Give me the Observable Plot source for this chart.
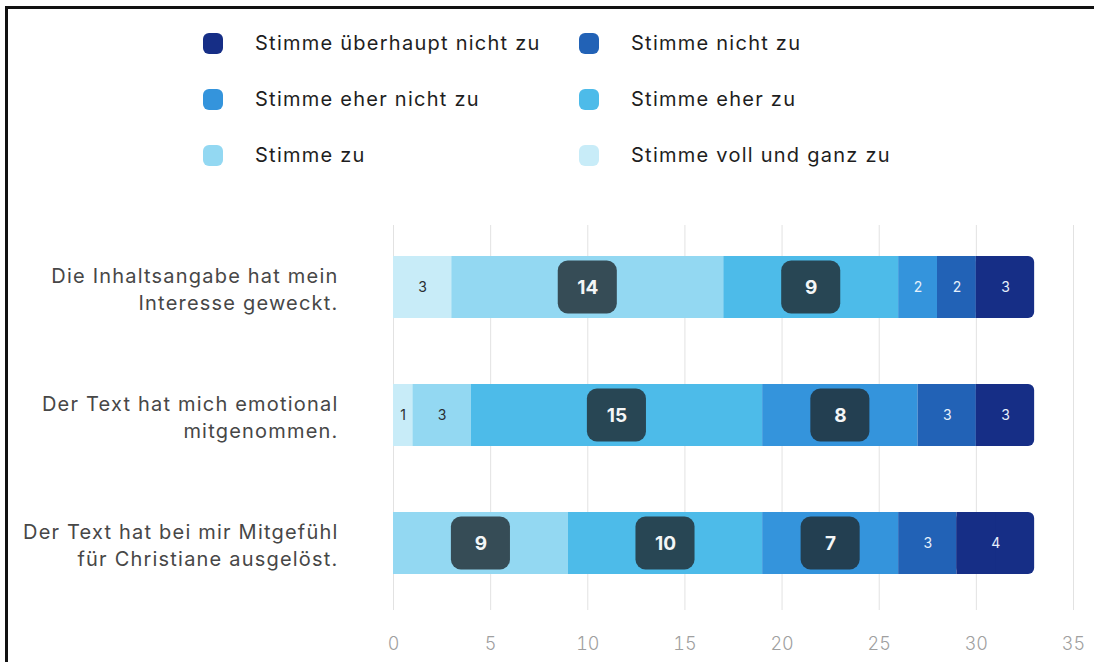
<!DOCTYPE html>
<html>
<head>
<meta charset="utf-8">
<script src="https://cdn.jsdelivr.net/npm/d3@7"></script>
<script src="https://cdn.jsdelivr.net/npm/@observablehq/plot@0.6"></script>
<style>
  html, body { margin: 0; padding: 0; background: #fff; }
  body { width: 1094px; height: 662px; position: relative; overflow: hidden; font-family: Inter, "Noto Sans", sans-serif; }
  #frame { position: absolute; left: 5px; top: 6px; right: -10px; bottom: -10px; border-top: 3px solid #111; border-left: 3px solid #111; pointer-events: none; z-index: 2; }
  #legend { position: absolute; left: 0; top: 0; width: 1094px; height: 200px; box-sizing: border-box; padding: 33px 0 0 203px;
    display: grid; grid-template-columns: 376px auto; grid-auto-rows: 20px; row-gap: 36px; align-content: start; }
  .item { display: flex; align-items: center; height: 20px; }
  .sw { width: 20px; height: 21px; border-radius: 6px; margin-right: 32px; flex: none; }
  .lab { font-size: 20px; line-height: 20px; color: #1e1e1e; white-space: nowrap; letter-spacing: 1.25px; }
  #chart { position: absolute; left: 0; top: 200px; }
  g[aria-description="ylabels"] text { letter-spacing: 1.2px; }
</style>
</head>
<body>
<div id="frame"></div>
<div id="legend"></div>
<div id="chart"></div>
<script>
const statements = [
  "Die Inhaltsangabe hat mein\nInteresse geweckt.",
  "Der Text hat mich emotional\nmitgenommen.",
  "Der Text hat bei mir Mitgefühl\nfür Christiane ausgelöst."
];
const responses = [
  "Stimme voll und ganz zu",
  "Stimme zu",
  "Stimme eher zu",
  "Stimme eher nicht zu",
  "Stimme nicht zu",
  "Stimme überhaupt nicht zu"
];
const colors = ["#c8ecf8", "#93d8f2", "#4dbbe9", "#3494dc", "#2262b6", "#162e86"];
const countsInteresse = [3, 14, 9, 2, 2, 3];
const countsEmotional = [1, 3, 15, 8, 3, 3];
const countsMitgefuehl = [0, 9, 10, 7, 3, 4];
const xTicks = [0, 5, 10, 15, 20, 25, 30, 35];
const legendOrder = [
  "Stimme überhaupt nicht zu", "Stimme nicht zu",
  "Stimme eher nicht zu", "Stimme eher zu",
  "Stimme zu", "Stimme voll und ganz zu"
];

// build table (manual stacking)
const allCounts = [countsInteresse, countsEmotional, countsMitgefuehl];
const rows = [];
statements.forEach((s, i) => {
  let acc = 0;
  responses.forEach((r, j) => {
    const v = allCounts[i][j];
    rows.push({statement: s, response: r, idx: j, value: v, x1: acc, x2: acc + v, mid: acc + v / 2});
    acc += v;
  });
});
const segs = rows.filter(d => d.value > 0);
const lastSegs = segs.filter(d => d.idx === responses.length - 1);
const otherSegs = segs.filter(d => d.idx !== responses.length - 1);
const big = segs.filter(d => d.value >= 5);
const small = segs.filter(d => d.value < 5);
const badgeHalf = 1.52;

// legend
const legend = document.getElementById("legend");
legendOrder.forEach(r => {
  const it = document.createElement("div");
  it.className = "item";
  const sw = document.createElement("span");
  sw.className = "sw";
  sw.style.background = colors[responses.indexOf(r)];
  const lb = document.createElement("span");
  lb.className = "lab";
  lb.textContent = r;
  it.append(sw, lb);
  legend.append(it);
});

const chart = Plot.plot({
  width: 1094,
  height: 462,
  marginLeft: 393,
  marginRight: 21,
  marginTop: 25,
  marginBottom: 52,
  style: {fontFamily: "Inter, 'Noto Sans', sans-serif", background: "transparent"},
  x: {domain: [0, 35], axis: null},
  y: {domain: statements, range: [56, 374], paddingInner: 0.516, paddingOuter: 0, axis: null},
  color: {domain: responses, range: colors},
  marks: [
    Plot.gridX(xTicks, {stroke: "#e2e2e2", strokeOpacity: 1, strokeWidth: 1}),
    Plot.barX(otherSegs, {x1: "x1", x2: "x2", y: "statement", fill: "response"}),
    Plot.barX(lastSegs, {x1: "x1", x2: "x2", y: "statement", fill: "response", rx: 6}),
    Plot.barX(lastSegs, {x1: "x1", x2: "mid", y: "statement", fill: "response"}),
    Plot.barX(big, {x1: d => d.mid - badgeHalf, x2: d => d.mid + badgeHalf, y: "statement",
      insetTop: 4.5, insetBottom: 4.5, rx: 10, fill: "#1f292e", fillOpacity: 0.8}),
    Plot.text(big, {x: "mid", y: "statement", text: d => String(d.value), fill: "#f4f6f7",
      fontSize: 19, fontWeight: 700}),
    Plot.text(small, {x: "mid", y: "statement", text: d => String(d.value),
      fill: d => d.idx <= 1 ? "#2a2f33" : "#e6f0fb", fontSize: 14, fontWeight: d => d.idx <= 1 ? 600 : 500}),
    Plot.text(statements, {y: d => d, frameAnchor: "left", dx: -55, textAnchor: "end",
      text: d => d, fontSize: 20, lineHeight: 1.35, fill: "#474747", ariaDescription: "ylabels"}),
    Plot.axisX(xTicks, {tickSize: 0, tickPadding: 27, fontSize: 18, fill: "#a0a0a0", fontWeight: 300})
  ]
});
document.getElementById("chart").append(chart);
</script>
</body>
</html>
